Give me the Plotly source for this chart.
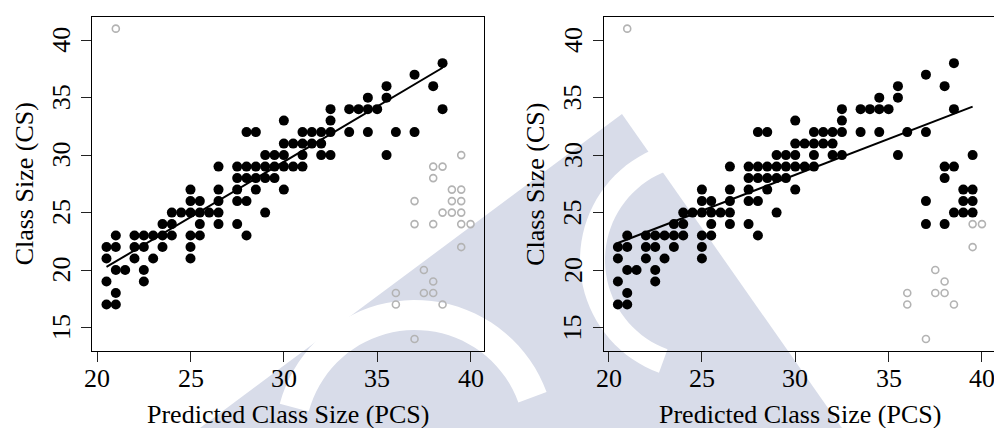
import numpy as np
import plotly.graph_objects as go

# ---- data ----
# points shown black in both panels: (PCS, CS)
common_x = [20.5, 21,
            21,
            20.5, 22.5,
            21, 21.5, 22.5,
            20.5, 22, 23, 25,
            20.5, 21, 22, 22.5, 23.5, 25,
            21, 22, 22.5, 23, 23.5, 24, 25, 25.5, 28,
            23.5, 24, 25.5, 26.5, 27.5,
            24, 24.5, 25, 25.5, 26, 26.5, 29,
            25, 25.5, 26.5, 27.5, 28,
            25, 26.5, 27.5, 28.5, 30,
            27.5, 28, 28.5, 29, 29.5,
            26.5, 27.5, 28, 28.5, 29, 29.5, 30, 30.5, 31,
            29, 29.5, 30, 31, 32, 32.5, 35.5,
            30, 30.5, 31, 31.5, 32,
            28, 28.5, 31, 31.5, 32, 32.5, 33.5, 34.5, 36, 37,
            30, 32.5,
            32.5, 33.5, 34, 34.5, 35, 38.5,
            34.5, 35.5,
            35.5, 38,
            37,
            38.5]
common_y = [17, 17,
            18,
            19, 19,
            20, 20, 20,
            21, 21, 21, 21,
            22, 22, 22, 22, 22, 22,
            23, 23, 23, 23, 23, 23, 23, 23, 23,
            24, 24, 24, 24, 24,
            25, 25, 25, 25, 25, 25, 25,
            26, 26, 26, 26, 26,
            27, 27, 27, 27, 27,
            28, 28, 28, 28, 28,
            29, 29, 29, 29, 29, 29, 29, 29, 29,
            30, 30, 30, 30, 30, 30, 30,
            31, 31, 31, 31, 31,
            32, 32, 32, 32, 32, 32, 32, 32, 32, 32,
            33, 33,
            34, 34, 34, 34, 34, 34,
            35, 35,
            36, 36,
            37,
            38]

# points excluded on the left (grey) but included on the right (black)
swap_x = [38, 38.5, 39.5, 38, 39, 39.5, 37, 39, 39.5, 38.5, 39, 39.5, 37, 38]
swap_y = [29, 29, 30, 28, 27, 27, 26, 26, 26, 25, 25, 25, 24, 24]

# points excluded in both panels (grey open circles)
out_x = [39.5, 40, 39.5, 37.5, 38, 36, 37.5, 38, 36, 38.5, 37, 21]
out_y = [24, 24, 22, 20, 19, 18, 18, 18, 17, 17, 14, 41]

# fitted lines (end points)
fitL_x = [20.5, 38.5]
fitL_y = [20.27, 37.6]
fitR_x = [20.5, 39.5]
fitR_y = [22.35, 34.22]

x_ticks = [20, 25, 30, 35, 40]
y_ticks = [15, 20, 25, 30, 35, 40]
x_title = "Predicted Class Size (PCS)"
y_title = "Class Size (CS)"

# ---- figure ----
W, H = 994, 428
BLACK = "#000000"
GREY = "#b3b3b3"
WM = "#d8dce9"
FONT = "'Liberation Serif', 'Times New Roman', Tinos, 'DejaVu Serif', serif"

fig = go.Figure()

def add_panel(xa, ya, black_x, black_y, grey_x, grey_y, lx, ly):
    fig.add_trace(go.Scatter(x=grey_x, y=grey_y, mode="markers", xaxis=xa, yaxis=ya,
                             marker=dict(symbol="circle-open", size=7, color=GREY,
                                         line=dict(width=1.6, color=GREY)),
                             showlegend=False, hoverinfo="skip"))
    fig.add_trace(go.Scatter(x=black_x, y=black_y, mode="markers", xaxis=xa, yaxis=ya,
                             marker=dict(symbol="circle", size=10, color=BLACK,
                                         line=dict(width=0)),
                             showlegend=False, hoverinfo="skip"))
    fig.add_trace(go.Scatter(x=lx, y=ly, mode="lines", xaxis=xa, yaxis=ya,
                             line=dict(color=BLACK, width=2),
                             showlegend=False, hoverinfo="skip"))

add_panel("x", "y", common_x, common_y, swap_x + out_x, swap_y + out_y, fitL_x, fitL_y)
add_panel("x2", "y2", common_x + swap_x, common_y + swap_y, out_x, out_y, fitR_x, fitR_y)

# pixel geometry
def px(v):
    return v / W

def py(v):
    return (H - v) / H

L1, R1 = 92.3, 484.0
L2, R2 = 603.7, 994.0
TOP, BOT = 16.7, 351.0
XMIN = 19.74
PPU = 18.67  # pixels per x unit
xr1 = [XMIN, XMIN + (R1 - L1) / PPU]
xr2 = [XMIN, XMIN + (R2 - L2) / PPU]
yr = [12.96, 42.04]

axis_common = dict(showgrid=False, zeroline=False, showline=True, mirror=True,
                   linecolor=BLACK, linewidth=1, ticks="outside", ticklen=10,
                   tickwidth=1, tickcolor="#222222", showticklabels=False)

# background watermark (approximate), drawn in paper pixels
def path_poly(pts):
    return "M " + " L ".join(f"{px(a):.5f},{py(b):.5f}" for a, b in pts) + " Z"

def ring_path(cx, cy, r1, r2, a0, a1, n=40):
    t = np.linspace(np.radians(a0), np.radians(a1), n)
    outer = [(cx + r2 * np.cos(a), cy - r2 * np.sin(a)) for a in t]
    inner = [(cx + r1 * np.cos(a), cy - r1 * np.sin(a)) for a in t[::-1]]
    return path_poly(outer + inner)

shapes = [
    dict(type="path", xref="paper", yref="paper", layer="below", line=dict(width=0),
         fillcolor=WM, path=path_poly([(200, 428), (622, 114), (842, 428)])),
    dict(type="path", xref="paper", yref="paper", layer="below", line=dict(width=0),
         fillcolor="white", path=ring_path(415, 440, 110, 140, 20, 165)),
    dict(type="path", xref="paper", yref="paper", layer="below", line=dict(width=0),
         fillcolor="white", path=ring_path(700, 260, 95, 120, 110, 250)),
]

fig.update_layout(
    width=W, height=H, margin=dict(l=0, r=0, t=0, b=0),
    paper_bgcolor="white", plot_bgcolor="rgba(0,0,0,0)",
    font=dict(family=FONT, size=26, color=BLACK),
    shapes=shapes,
    xaxis=dict(domain=[px(L1), px(R1)], range=xr1, tickvals=x_ticks, anchor="y", **axis_common),
    yaxis=dict(domain=[py(BOT), py(TOP)], range=yr, tickvals=y_ticks, anchor="x", **axis_common),
    xaxis2=dict(domain=[px(L2), 1.0], range=xr2, tickvals=x_ticks, anchor="y2", **axis_common),
    yaxis2=dict(domain=[py(BOT), py(TOP)], range=yr, tickvals=y_ticks, anchor="x2", **axis_common),
)

tfont = dict(family=FONT, size=26, color=BLACK)
panels = [("x", "y", 0.0), ("x2", "y2", L2 - L1)]
for xa, ya, dx in panels:
    # x tick labels
    for v in x_ticks:
        fig.add_annotation(text=str(v), x=v, xref=xa, y=py(378), yref="paper",
                           showarrow=False, xanchor="center", yanchor="middle", font=tfont)
    # y tick labels (rotated, as in R)
    for v in y_ticks:
        fig.add_annotation(text=str(v), x=px(61.5 + dx), xref="paper", y=v, yref=ya,
                           showarrow=False, xanchor="center", yanchor="middle",
                           textangle=-90, font=tfont)

ymid = (py(BOT) + py(TOP)) / 2
for cx in [(L1 + R1) / 2, (L2 + 995.4) / 2]:
    fig.add_annotation(text=x_title, x=px(cx), y=py(414), xref="paper", yref="paper",
                       showarrow=False, xanchor="center", yanchor="middle", font=tfont)
for cx in [24.5, 24.5 + (L2 - L1)]:
    fig.add_annotation(text=y_title, x=px(cx), y=ymid, xref="paper", yref="paper",
                       showarrow=False, xanchor="center", yanchor="middle", textangle=-90,
                       font=tfont)

fig.write_html("out.html")
